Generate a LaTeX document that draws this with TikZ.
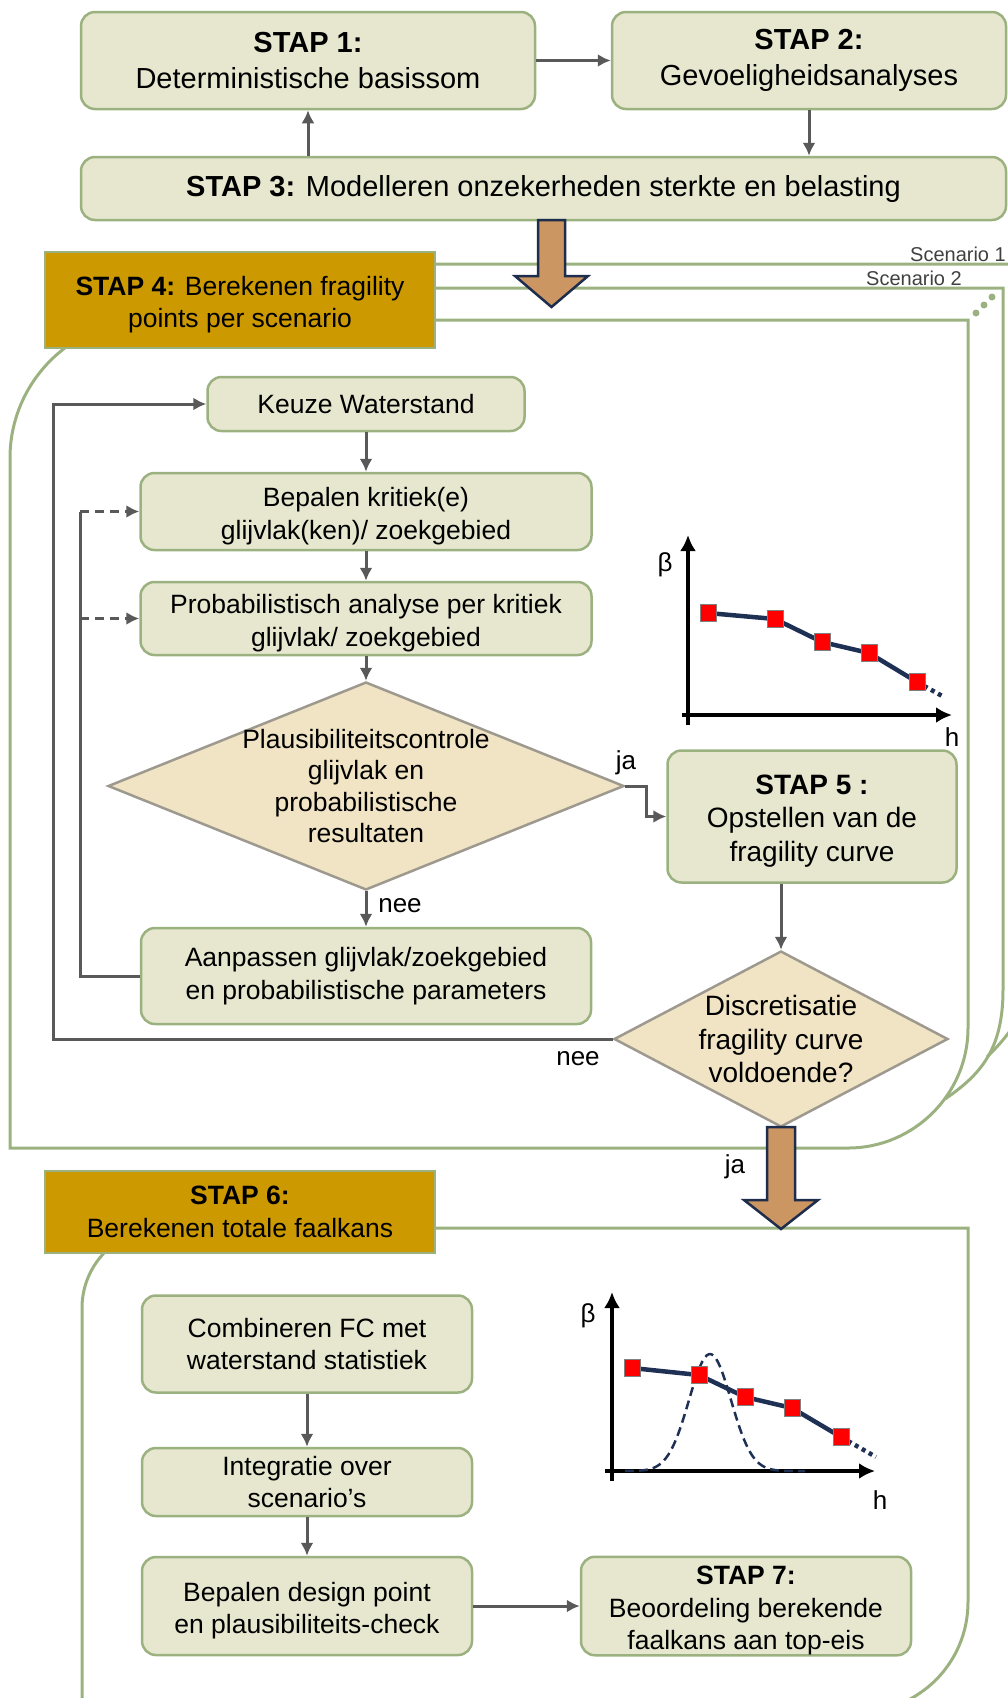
\documentclass[tikz,border=0pt]{standalone}
\usepackage{fontspec}
\setmainfont{Liberation Sans}
\usetikzlibrary{shapes.geometric,arrows.meta}

\definecolor{vakrand}{RGB}{155,178,128}
\definecolor{vakvul}{RGB}{230,231,206}
\definecolor{ruitrand}{RGB}{158,153,143}
\definecolor{ruitvul}{RGB}{240,228,196}
\definecolor{stapvul}{RGB}{204,153,0}
\definecolor{blokvul}{RGB}{204,150,98}
\definecolor{blokrand}{RGB}{31,45,77}
\definecolor{lijngrijs}{RGB}{89,89,89}
\definecolor{fcblauw}{RGB}{31,48,85}
\definecolor{scentekst}{RGB}{64,64,64}
\newcommand{\zakregel}{\rule{0pt}{28pt}}

\begin{document}
\begin{tikzpicture}[x=1pt,y=-1pt,
	vak/.style={draw=vakrand,fill=vakvul,line width=2.5pt,rounded corners=14pt,align=center,inner sep=0pt,font=\fontsize{26.5}{32.5}\selectfont},
	groot/.style={font=\fontsize{29}{36}\selectfont},
	middel/.style={font=\fontsize{28}{33.5}\selectfont},
	stapvak/.style={draw=vakrand,fill=stapvul,line width=2.5pt,align=center,inner sep=0pt,font=\fontsize{26.5}{32.5}\selectfont},
	ruit/.style={diamond,draw=ruitrand,fill=ruitvul,line width=2.5pt,inner sep=0pt},
	pijl/.style={draw=lijngrijs,line width=3pt,-{Latex[length=13pt,width=13pt]}},
	lijn/.style={draw=lijngrijs,line width=3pt},
	stippel/.style={dash pattern=on 9pt off 6pt},
	kader/.style={draw=vakrand,line width=3pt},
	blok/.style={fill=blokvul,draw=blokrand,line width=2.5pt,line join=miter},
	assen/.style={line width=4pt,-{Latex[length=16pt,width=16pt]}},
	fc/.style={draw=fcblauw,line width=4.5pt},
	bel/.style={draw=fcblauw,line width=2.5pt,dash pattern=on 9pt off 5pt},
	punt/.style={draw=gray,fill=red,line width=0.8pt,minimum width=16pt,minimum height=17pt,inner sep=0pt},
	klein/.style={font=\fontsize{26}{30}\selectfont},
	scen/.style={font=\fontsize{20}{24}\selectfont,text=scentekst,anchor=base east,inner sep=0pt}]
	\useasboundingbox (0,0) rectangle (1008,1698);
	\clip (0,0) rectangle (1008,1698);
	% kaders scenario's
	\draw[kader] (435,264) -- (1045,264) -- (1045,900) .. controls (1045,985) and (1020,1025) .. (987,1057);
	\draw[kader] (435,288) -- (1003,288) -- (1003,990) .. controls (1003,1050) and (980,1075) .. (945,1099);
	\draw[kader] (435,320) -- (968,320) -- (968,1028) .. controls (968,1094) and (914,1148) .. (848,1148) -- (10,1148) -- (10,458) .. controls (10,382) and (72,320) .. (148,320) -- cycle;
	\draw[kader] (435,1228) -- (968,1228) -- (968,1602) .. controls (968,1663) and (919,1712) .. (858,1712) -- (82,1712) -- (82,1308) .. controls (82,1264) and (118,1228) .. (162,1228) -- cycle;
	\fill[vakrand] (976,313) circle[radius=3.5pt] (984,305) circle[radius=3.5pt] (992,297) circle[radius=3.5pt];
	\node[scen] (scen1) at (1006,261) {Scenario 1};
	\node[scen] (scen2) at (962,285) {Scenario 2};

	% stappen 1-3
	\node[vak,groot,minimum width=454,minimum height=97] (stap1) at (308,60.5) {\textbf{STAP 1:}\\Deterministische basissom};
	\node[vak,groot,minimum width=394,minimum height=97] (stap2) at (809,60.5) {\textbf{STAP 2:}\\Gevoeligheidsanalyses};
	\node[vak,groot,minimum width=925,minimum height=63] (stap3) at (543.5,188.5) {\textbf{STAP 3:} Modelleren onzekerheden sterkte en belasting};
	\draw[pijl] (stap1) -- (stap2);
	\draw[pijl] (stap3.north -| stap1.south) -- (stap1.south);
	\draw[pijl] (stap2.south) -- (stap2.south |- stap3.north);
	\draw[blok] (538,220) -- (565,220) -- (565,276) -- (588,276) -- (551.5,307) -- (515,276) -- (538,276) -- cycle;

	% stap 4 en 5
	\node[stapvak,minimum width=390,minimum height=96] (stap4) at (240,300) {\zakregel\textbf{STAP 4:} Berekenen fragility\\points per scenario};
	\node[vak,minimum width=317,minimum height=54] (keuze) at (366,404) {Keuze Waterstand};
	\node[vak,minimum width=451,minimum height=77] (bepalen) at (366,511.5) {\zakregel Bepalen kritiek(e)\\glijvlak(ken)/ zoekgebied};
	\node[vak,minimum width=451,minimum height=73] (prob) at (366,618.5) {\zakregel Probabilistisch analyse per kritiek\\glijvlak/ zoekgebied};
	\node[ruit,minimum width=516,minimum height=208,label={[font=\fontsize{26.5}{31.5}\selectfont,align=center]center:{Plausibiliteitscontrole\\glijvlak en\\probabilistische\\resultaten}}] (plaus) at (366,786) {};
	\node[vak,minimum width=450,minimum height=96] (aanpassen) at (366,976) {Aanpassen glijvlak/zoekgebied\\en probabilistische parameters};
	\node[vak,middel,minimum width=289,minimum height=132] (stap5) at (812,816.5) {\zakregel\textbf{STAP 5 :}\\Opstellen van de\\fragility curve};
	\node[ruit,minimum width=334,minimum height=176,label={[font=\fontsize{28}{33.5}\selectfont,align=center]center:{Discretisatie\\fragility curve\\voldoende?}}] (disc) at (781,1039) {};
	\draw[pijl] (keuze) -- (bepalen);
	\draw[pijl] (bepalen) -- (prob);
	\draw[pijl] (prob) -- (plaus);
	\draw[pijl] (plaus) -- (aanpassen);
	\draw[pijl] (plaus.east) -- ++(21,0) |- (stap5.west);
	\draw[pijl] (disc.north |- stap5.south) -- (disc.north);
	\coordinate (lus) at (80,0);
	\draw[lijn] (aanpassen.west) -| (lus |- bepalen.west);
	\draw[pijl,stippel] (lus |- bepalen.west) -- (bepalen.west);
	\draw[pijl,stippel] (lus |- prob.west) -- (prob.west);
	\coordinate (buitenlus) at (53,0);
	\draw[pijl] (disc.west) -| (buitenlus |- keuze.west) -- (keuze.west);
	\node[klein,anchor=base] (ja1) at (626,769) {ja};
	\node[klein,anchor=base] (nee1) at (400,912) {nee};
	\node[klein,anchor=base] (nee2) at (578,1065) {nee};
	\draw[blok] (767,1127) -- (795,1127) -- (795,1200) -- (818,1200) -- (781,1229) -- (744,1200) -- (767,1200) -- cycle;
	\node[klein,anchor=base] (ja2) at (735,1173) {ja};

	% grafiek fragility curve
	\coordinate (as1o) at (688,725);
	\coordinate (as1y) at (688,535);
	\coordinate (as1l) at (682,715);
	\coordinate (as1x) at (952,715);
	\draw[assen] (as1o) -- (as1y);
	\draw[assen] (as1l) -- (as1x);
	\node[klein] (beta1) at (665,565) {β};
	\node[klein] (h1) at (952,737) {h};
	\coordinate (a1) at (708,613);
	\coordinate (a2) at (775,619);
	\coordinate (a3) at (822,642);
	\coordinate (a4) at (869,653);
	\coordinate (a5) at (917,682);
	\coordinate (a6) at (944,697);
	\draw[fc] (a1) -- (a2) -- (a3) -- (a4) -- (a5);
	\draw[fc,dash pattern=on 4pt off 4pt] (a5) -- (a6);
	\node[punt] (m1) at (a1) {};
	\node[punt] (m2) at (a2) {};
	\node[punt] (m3) at (a3) {};
	\node[punt] (m4) at (a4) {};
	\node[punt] (m5) at (a5) {};

	% stap 6 en 7
	\node[stapvak,minimum width=390,minimum height=82] (stap6) at (240,1212) {\textbf{STAP 6:}\\Berekenen totale faalkans};
	\node[vak,minimum width=330,minimum height=97] (combi) at (307,1344) {Combineren FC met\\waterstand statistiek};
	\node[vak,minimum width=330,minimum height=68] (integratie) at (307,1482) {Integratie over\\scenario’s};
	\node[vak,minimum width=330,minimum height=98] (design) at (307,1606) {\zakregel Bepalen design point\\en plausibiliteits-check};
	\node[vak,minimum width=330,minimum height=98] (stap7) at (746,1606) {\zakregel\textbf{STAP 7:}\\Beoordeling berekende\\faalkans aan top-eis};
	\draw[pijl] (combi) -- (integratie);
	\draw[pijl] (integratie) -- (design);
	\draw[pijl] (design) -- (stap7);

	% grafiek met waterstandsverdeling
	\coordinate (as2o) at (612,1481);
	\coordinate (as2y) at (612,1292);
	\coordinate (as2l) at (605,1471);
	\coordinate (as2x) at (875,1471);
	\draw[assen] (as2o) -- (as2y);
	\draw[assen] (as2l) -- (as2x);
	\node[klein] (beta2) at (588,1316) {β};
	\node[klein] (h2) at (880,1500) {h};
	\draw[bel] plot[domain=625:805,samples=80,smooth] (\x,{1471-117*exp(-((\x-710)*(\x-710))/882)});
	\coordinate (b1) at (632,1368);
	\coordinate (b2) at (699,1375);
	\coordinate (b3) at (745,1397);
	\coordinate (b4) at (792,1408);
	\coordinate (b5) at (841,1437);
	\coordinate (b6) at (876,1457);
	\draw[fc] (b1) -- (b2) -- (b3) -- (b4) -- (b5);
	\draw[fc,dash pattern=on 4pt off 4pt] (b5) -- (b6);
	\node[punt] (n1) at (b1) {};
	\node[punt] (n2) at (b2) {};
	\node[punt] (n3) at (b3) {};
	\node[punt] (n4) at (b4) {};
	\node[punt] (n5) at (b5) {};
\end{tikzpicture}
\end{document}
